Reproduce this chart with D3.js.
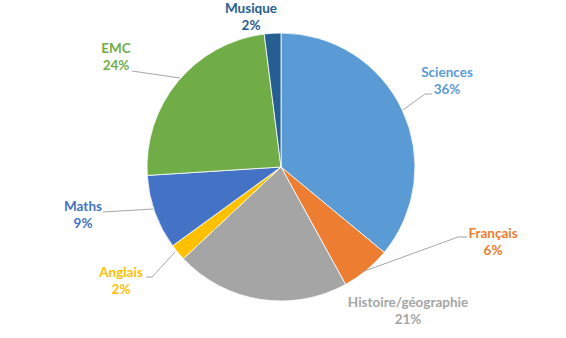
<!DOCTYPE html>
<html>
<head>
<meta charset="utf-8">
<script src="https://cdn.jsdelivr.net/npm/d3@7"></script>
<style>
  body { margin: 0; background: #fff; }
  text { font-family: Lato, "Open Sans", sans-serif; font-weight: bold; font-size: 13.5px; }
</style>
</head>
<body>
<script>
// Data
var subjects = ["Sciences", "Français", "Histoire/géographie", "Anglais", "Maths", "EMC", "Musique"];
var shares = [36, 6, 21, 2, 9, 24, 2];
var colors = ["#5B9BD5", "#ED7D31", "#A5A5A5", "#FFC000", "#4472C4", "#70AD47", "#255E91"];

// Label placement (centre x, first line baseline) and leader lines
var labelPos = [[447, 77], [493, 238], [408, 307], [121, 277], [83, 211], [116, 53], [251, 13]];
var leaders = [
    [[403, 110], [425, 94], [432, 94]],
    [[362, 272], [458, 237], [467, 237]],
    null,
    [[175, 252], [152, 277], [146, 277]],
    [[153, 209], [103, 212]],
    [[180, 78], [132, 71]],
    null
];

var width = 566, height = 338,
    cx = 281, cy = 167, radius = 134;

var svg = d3.select("body")
    .append("svg")
    .attr("width", width)
    .attr("height", height);

var data = subjects.map(function(s, i) {
    return { name: s, value: shares[i], color: colors[i], label: labelPos[i], leader: leaders[i] };
});

var pie = d3.pie()
    .value(function(d) { return d.value; })
    .sort(null);

var arc = d3.arc()
    .innerRadius(0)
    .outerRadius(radius);

var g = svg.append("g")
    .attr("transform", "translate(" + cx + "," + cy + ")");

g.selectAll(".slice")
    .data(pie(data))
    .enter()
    .append("path")
    .attr("class", "slice")
    .attr("d", arc)
    .attr("fill", function(d) { return d.data.color; })
    .attr("stroke", "#fff")
    .attr("stroke-width", 0.8);

// Leader lines
var line = d3.line();
svg.selectAll(".leader")
    .data(data.filter(function(d) { return d.leader; }))
    .enter()
    .append("path")
    .attr("class", "leader")
    .attr("d", function(d) { return line(d.leader); })
    .attr("fill", "none")
    .attr("stroke", "#a6a6a6")
    .attr("stroke-width", 1);

// Labels
var labels = svg.selectAll(".label")
    .data(data)
    .enter()
    .append("text")
    .attr("class", "label")
    .attr("text-anchor", "middle")
    .attr("fill", function(d) { return d.color; });

labels.append("tspan")
    .attr("x", function(d) { return d.label[0]; })
    .attr("y", function(d) { return d.label[1]; })
    .text(function(d) { return d.name; });

labels.append("tspan")
    .attr("x", function(d) { return d.label[0]; })
    .attr("y", function(d) { return d.label[1] + 17; })
    .text(function(d) { return d.value + "%"; });
</script>
</body>
</html>
